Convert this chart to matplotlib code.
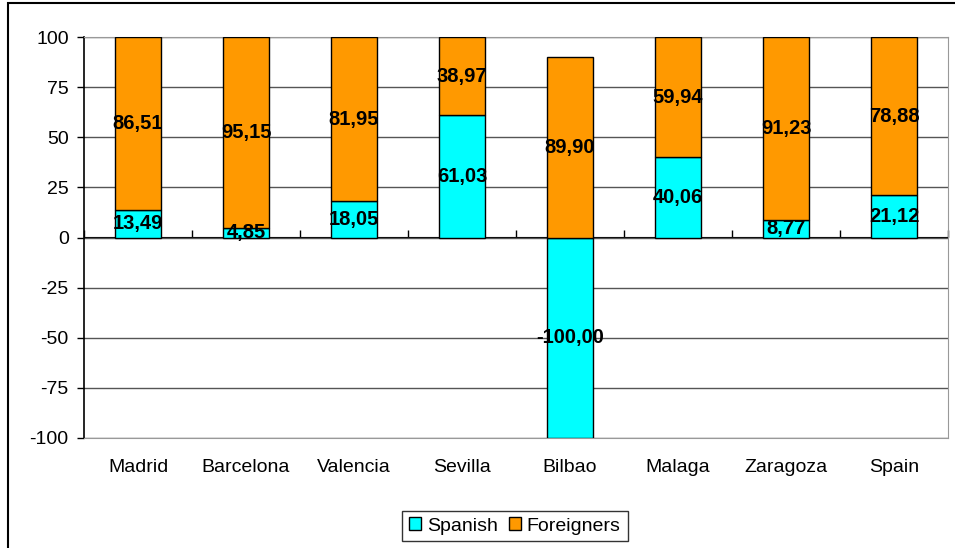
import numpy as np
import matplotlib.pyplot as plt
from matplotlib.patches import Rectangle

cities = ["Madrid", "Barcelona", "Valencia", "Sevilla", "Bilbao", "Malaga", "Zaragoza", "Spain"]
spanish = [13.49, 4.85, 18.05, 61.03, -100.00, 40.06, 8.77, 21.12]
foreigners = [86.51, 95.15, 81.95, 38.97, 89.90, 59.94, 91.23, 78.88]
yticks = [100, 75, 50, 25, 0, -25, -50, -75, -100]

plt.rcParams['font.family'] = ['Liberation Sans', 'DejaVu Sans']

W, H = 955, 548
fig = plt.figure(figsize=(W / 100, H / 100), dpi=100)
ax = fig.add_axes([84 / W, 1 - 438 / H, (948 - 84) / W, (438 - 37) / H])

x = np.arange(len(cities))
sp = np.array(spanish)
fo_bottom = np.clip(sp, 0, None)

b1 = ax.bar(x, spanish, width=0.42, color="#00FFFF", edgecolor="black", linewidth=1, label="Spanish", zorder=3)
b2 = ax.bar(x, foreigners, width=0.42, bottom=fo_bottom, color="#FF9900", edgecolor="black",
            linewidth=1, label="Foreigners", zorder=3)

def fmt(vals):
    return [f"{v:.2f}".replace(".", ",") for v in vals]

ax.bar_label(b1, labels=fmt(spanish), label_type="center", fontsize=14.5, fontweight="bold", zorder=4)
ax.bar_label(b2, labels=fmt(foreigners), label_type="center", fontsize=14.5, fontweight="bold", zorder=4)

ax.set_xlim(-0.5, len(cities) - 0.5)
ax.set_ylim(-100, 100)
ax.set_yticks(yticks)
ax.set_yticklabels([str(t) for t in yticks], fontsize=14)
ax.tick_params(axis="y", length=5, width=1, pad=6, direction="out")
ax.set_xticks(x)
ax.set_xticklabels(cities, fontsize=14)
ax.tick_params(axis="x", length=0, pad=15)

ax.grid(axis="y", color="#555555", linewidth=1, zorder=0)
for side in ["top", "right", "bottom"]:
    ax.spines[side].set_color("#999999")
ax.spines["left"].set_color("black")
ax.spines["left"].set_linewidth(1.2)

# zero axis with category tick marks
sec = ax.secondary_xaxis(0.5)
sec.set_xticks(np.arange(len(cities) + 1) - 0.5)
sec.set_xticklabels([])
sec.tick_params(length=5, width=1, direction="out")
sec.spines["bottom"].set_color("black")
sec.spines["bottom"].set_linewidth(1.2)

leg = fig.legend(handles=[b1, b2], loc="center", bbox_to_anchor=(515 / W, 1 - 526 / H), ncol=2,
                 fontsize=14, frameon=True, fancybox=False, edgecolor="black",
                 handlelength=0.6, handleheight=0.6, handletextpad=0.3, columnspacing=0.6,
                 borderpad=0.35, borderaxespad=0)
leg.get_frame().set_linewidth(1)

fig.patches.append(Rectangle((8 / W, -0.1), 1.2, 1 - 3 / H + 0.1, transform=fig.transFigure,
                             fill=False, edgecolor="black", linewidth=1.5))

fig.savefig("out.png", dpi=100)
